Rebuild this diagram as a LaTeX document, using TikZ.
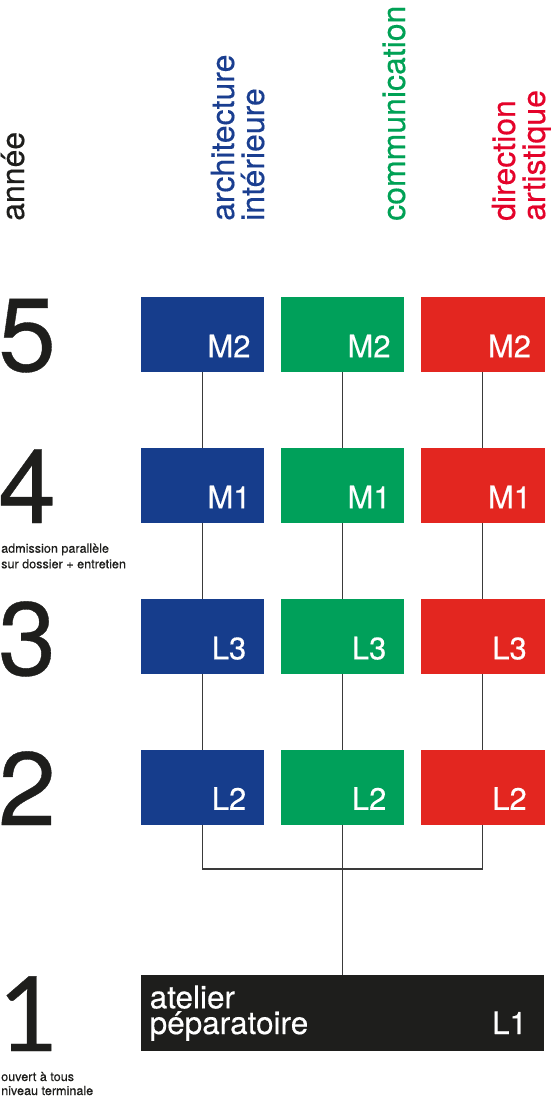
\documentclass[tikz,border=0pt]{standalone}
\usepackage{fontspec}
\setmainfont{TeX Gyre Heros}[FakeBold=0.35]
\newfontfamily\latofont{Lato}[FakeBold=0.35]
\usetikzlibrary{calc}
\definecolor{cblue}{HTML}{163D8C}
\definecolor{cgreen}{HTML}{00A05A}
\definecolor{cred}{HTML}{E32620}
\definecolor{cblack}{HTML}{1E1E1C}
\definecolor{tblue}{HTML}{1A3E90}
\definecolor{tgreen}{HTML}{00A155}
\definecolor{tred}{HTML}{E4032A}
\definecolor{cline}{HTML}{3A3A3A}
\begin{document}
\begin{tikzpicture}[x=1pt,y=-1pt,
  box/.style={rectangle, minimum width=123.5pt, minimum height=75pt, inner sep=0pt, outer sep=0pt},
  lbl/.style={anchor=base, text=white, inner sep=0pt, font=\fontsize{31}{31}\selectfont},
  head/.style={rotate=90, anchor=base west, inner sep=0pt, font=\fontsize{32}{30}\selectfont},
  digit/.style={anchor=base west, inner sep=0pt, text=cblack, font=\fontsize{104}{104}\selectfont},
  note/.style={anchor=base west, inner sep=0pt, text=cblack, font=\fontsize{12.6}{15.5}\selectfont},
  link/.style={draw=cline, line width=1.3pt}]
\useasboundingbox (0,0) rectangle (550,1104);

% headers
\node[head, text=cblack] (hyear) at (24,221) {année};
\node[head, text=tblue] (harch1) at (234,221) {architecture};
\node[head, text=tblue] (harch2) at (264,221) {intérieure};
\node[head, text=tgreen] (hcom) at (405,221) {communication};
\node[head, text=tred] (hda1) at (515,221) {direction};
\node[head, text=tred] (hda2) at (545,221) {artistique};

% year digits
\node[digit] (d5) at (-2,371) {5};
\node[digit] (d4) at (-2,523) {4};
\node[digit] (d3) at (-2,675) {3};
\node[digit] (d2) at (-2,825) {2};
\node[digit, font=\fontsize{104}{104}\latofont] (d1) at (-2,1051) {1};

% notes
\node[note] (n4a) at (1,552.7) {admission parallèle};
\node[note] (n4b) at (1,568.3) {sur dossier + entretien};
\node[note] (n1a) at (1,1081) {ouvert à tous};
\node[note] (n1b) at (1,1095) {niveau terminale};

% boxes
\foreach \c/\col/\x in {b/cblue/202.25, g/cgreen/342.35, r/cred/482.75}{
  \foreach \lev/\lab/\y in {5/M2/334.8, 4/M1/485.8, 3/L3/636.8, 2/L2/787.3}{
    \node[box, fill=\col] (\c\lev) at (\x,\y) {};
    \node[lbl] (\c\lev t) at ($(\c\lev.south east)+(-35,-15)$) {\lab};
  }
}

% L1 box
\node[box, fill=cblack, minimum width=403.6pt, minimum height=75.4pt] (l1) at (342.5,1013) {};
\node[anchor=base west, text=white, inner sep=0pt, font=\fontsize{31.5}{31}\selectfont] (l1a) at (149.5,1008.3) {atelier};
\node[anchor=base west, text=white, inner sep=0pt, font=\fontsize{31.5}{31}\selectfont] (l1b) at (149.5,1034) {péparatoire};
\node[lbl] (l1t) at (509.5,1034) {L1};

% links
\foreach \c in {b,g,r}{
  \draw[link] (\c5.south) -- (\c4.north);
  \draw[link] (\c4.south) -- (\c3.north);
  \draw[link] (\c3.south) -- (\c2.north);
}
\coordinate (join) at (342.35,869);
\draw[link] (b2.south) |- (join) -| (r2.south);
\draw[link] (g2.south) -- (g2.south |- l1.north);
\end{tikzpicture}
\end{document}
